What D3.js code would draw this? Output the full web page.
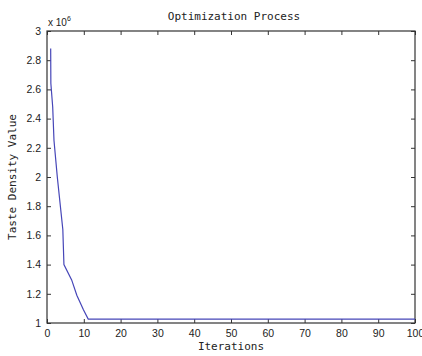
<!DOCTYPE html>
<html>
<head>
<meta charset="utf-8">
<script src="https://cdn.jsdelivr.net/npm/d3@7"></script>
<style>
  body { margin: 0; background: #fff; }
  svg { display: block; }
</style>
</head>
<body>
<svg></svg>
<script>
const WIDTH = 422;
const HEIGHT = 356;
const MARGIN = {top: 31, right: 7, bottom: 33, left: 47};
const LINE_COLOR = '#4646b8';
const AXIS_COLOR = '#333';
const MONO = '"DejaVu Sans Mono", monospace';
const SANS = '"Liberation Sans", Arial, sans-serif';

// values (iteration, taste density value)
const iterations = [1, 1.05, 1.55, 1.9, 2.8, 4.3, 4.6, 6.7, 8.1, 9.9, 11.2, 100];
const densityValues = [2880000, 2640000, 2480000, 2250000, 2000000, 1640000, 1400000,
    1295000, 1190000, 1090000, 1027000, 1027000];

const xTicks = [0, 10, 20, 30, 40, 50, 60, 70, 80, 90, 100];
const yTicks = [1, 1.2, 1.4, 1.6, 1.8, 2, 2.2, 2.4, 2.6, 2.8, 3].map(v => v * 1e6);

const titleText = 'Optimization Process';
const xLabel = 'Iterations';
const yLabel = 'Taste Density Value';

const w = WIDTH - MARGIN.left - MARGIN.right;
const h = HEIGHT - MARGIN.top - MARGIN.bottom;

const data = iterations.map((it, i) => ({it, v: densityValues[i]}));

var root = d3.select('svg')
    .attr('width', WIDTH)
    .attr('height', HEIGHT);

var svg = root.append('g')
    .attr('transform', 'translate(' + MARGIN.left + ',' + MARGIN.top + ')');

var x = d3.scaleLinear().domain([0, 100]).range([0, w]);
var y = d3.scaleLinear().domain([1e6, 3e6]).range([h, 0]);

const fmtY = d => d3.format('~g')(d / 1e6);

/* axes, ticks pointing inward like matlab */
function styleAxis(g) {
    g.select('.domain').remove();
    g.selectAll('line').attr('stroke', AXIS_COLOR);
    g.selectAll('text')
        .attr('fill', '#222')
        .style('font-family', SANS)
        .style('font-size', '10.5px');
}

svg.append('g')
    .attr('transform', 'translate(0,' + h + ')')
    .call(d3.axisBottom(x).tickValues(xTicks).tickSize(-4).tickPadding(7))
    .call(styleAxis);

svg.append('g')
    .call(d3.axisTop(x).tickValues(xTicks).tickSize(-4).tickFormat(''))
    .call(styleAxis);

svg.append('g')
    .call(d3.axisLeft(y).tickValues(yTicks).tickSize(-4).tickFormat(fmtY).tickPadding(6))
    .call(styleAxis);

svg.append('g')
    .attr('transform', 'translate(' + w + ',0)')
    .call(d3.axisRight(y).tickValues(yTicks).tickSize(-4).tickFormat(''))
    .call(styleAxis);

// box
svg.append('rect')
    .attr('x', 0).attr('y', 0)
    .attr('width', w).attr('height', h)
    .attr('fill', 'none')
    .attr('stroke', AXIS_COLOR)
    .attr('stroke-width', 1.2);

svg.append('path')
    .datum(data)
    .attr('fill', 'none')
    .attr('stroke', LINE_COLOR)
    .attr('stroke-width', 1.2)
    .attr('d', d3.line()
        .x(d => x(d.it))
        .y(d => y(d.v)));

// exponent label
var ex = root.append('text')
    .attr('x', MARGIN.left + 1)
    .attr('y', MARGIN.top - 5)
    .attr('fill', '#222')
    .style('font-family', SANS)
    .style('font-size', '10px');
ex.append('tspan').text('x 10');
ex.append('tspan').attr('dy', -5).style('font-size', '7px').text('6');

root.append('text')
    .attr('x', MARGIN.left + w / 2 + 3)
    .attr('y', 20)
    .attr('text-anchor', 'middle')
    .attr('fill', '#222')
    .style('font-family', MONO)
    .style('font-size', '11px')
    .text(titleText);

root.append('text')
    .attr('x', MARGIN.left + w / 2)
    .attr('y', 350)
    .attr('text-anchor', 'middle')
    .attr('fill', '#222')
    .style('font-family', MONO)
    .style('font-size', '11px')
    .text(xLabel);

root.append('text')
    .attr('transform', 'translate(16,' + (MARGIN.top + h / 2) + ') rotate(-90)')
    .attr('text-anchor', 'middle')
    .attr('fill', '#222')
    .style('font-family', MONO)
    .style('font-size', '11px')
    .text(yLabel);
</script>
</body>
</html>
